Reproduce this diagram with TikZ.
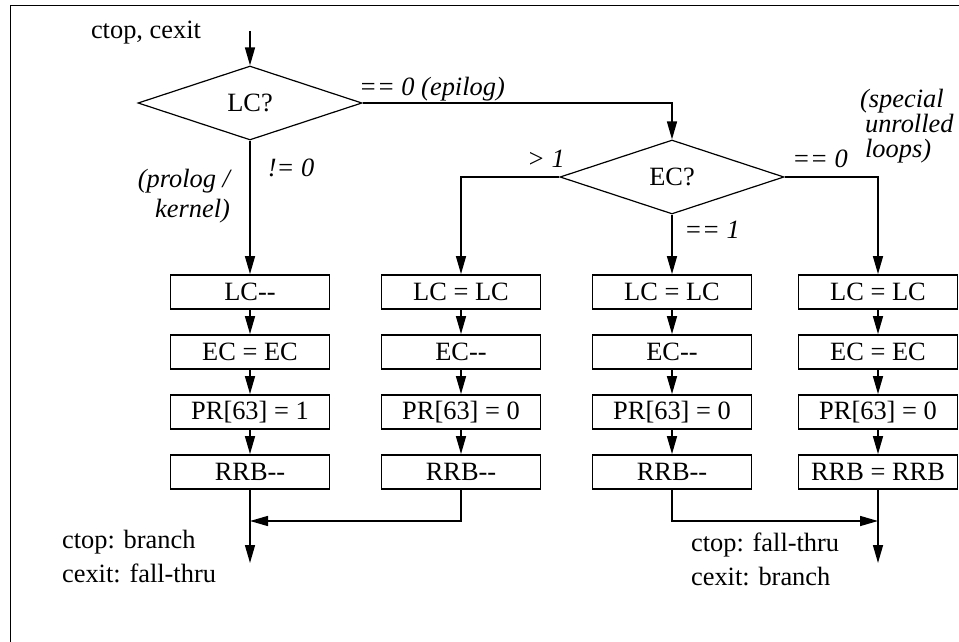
\documentclass[tikz,border=0pt]{standalone}
\usepackage{fontspec}
\setmainfont{Liberation Serif}
\usepackage{tikz}
\usetikzlibrary{shapes.geometric,arrows.meta}
\tikzstyle{testnode}=[draw,%
                      diamond,%
                      line width     = 0.6pt,%
                      aspect         = 3,%
                      inner sep      = 0pt,%
                      minimum width  = 112pt,%
                      minimum height = 37pt]
\tikzstyle{opnode}=[draw,rectangle,line width=0.9pt,minimum width=79.5pt,minimum height=17pt,inner sep=0pt,node distance=30pt]
\tikzstyle{cond}=[font=\fontsize{13.2}{15}\selectfont\itshape]
\tikzstyle{flow}=[-{Triangle[length=9pt,width=5pt]},line width=0.75pt]
\begin{document}
\begin{tikzpicture}[x=0.5pt,y=-0.5pt,font=\fontsize{13.2}{17}\selectfont]
            \useasboundingbox (0,0) rectangle (959,642);
            \draw[line width=0.5pt] (10,642) -- (10,5.5) -- (959,5.5);
            \node (entry) at (146,33) {ctop, cexit};
            \coordinate (in) at (250,31);
            \node[testnode] (lc) at (250,103) {LC?};
            \node[testnode] (ec) at (672,177) {EC?};
            % columns of operations
            \node[opnode] (lcA) at (250,292) {LC-{}-};
            \node[opnode][below of=lcA] (ecA) {EC = EC};
            \node[opnode][below of=ecA] (prA) {PR[63] = 1};
            \node[opnode][below of=prA] (rrbA) {RRB-{}-};
            \node[opnode] (lcB) at (461,292) {LC = LC};
            \node[opnode][below of=lcB] (ecB) {EC-{}-};
            \node[opnode][below of=ecB] (prB) {PR[63] = 0};
            \node[opnode][below of=prB] (rrbB) {RRB-{}-};
            \node[opnode] (lcC) at (672,292) {LC = LC};
            \node[opnode][below of=lcC] (ecC) {EC-{}-};
            \node[opnode][below of=ecC] (prC) {PR[63] = 0};
            \node[opnode][below of=prC] (rrbC) {RRB-{}-};
            \node[opnode] (lcD) at (878,292) {LC = LC};
            \node[opnode][below of=lcD] (ecD) {EC = EC};
            \node[opnode][below of=ecD] (prD) {PR[63] = 0};
            \node[opnode][below of=prD] (rrbD) {RRB = RRB};
            % branch labels
            \node[cond] (epi) at (432,89) {== 0 (epilog)};
            \node[cond] (ne) at (291,168) {!= 0};
            \node[cond,align=right,anchor=east] (pk) at (237,196) {(prolog /\\kernel)};
            \node[cond] (gt) at (546,159) {> 1};
            \node[cond] (eqz) at (820,159) {== 0};
            \node[cond] (eqo) at (712,230) {== 1};
            \node[cond,align=left,anchor=west,font=\fontsize{13.2}{12.5}\selectfont\itshape] (spec) at (853,126) {(special\\\hspace*{2.5pt}unrolled\\\hspace*{2.5pt}loops)};
            % exits
            \coordinate (mA) at (250,521);
            \coordinate (mD) at (878,521);
            \coordinate (outA) at (250,563);
            \coordinate (outD) at (878,563);
            \node[align=left,anchor=west] (exA) at (55,557) {ctop: branch\\cexit: fall-thru};
            \node[align=left,anchor=west] (exD) at (684,559) {ctop: fall-thru\\cexit: branch};
            \draw [flow] (in) -- (lc.north);
            \draw [flow] (lc.east) -| (ec.north);
            \draw [flow] (lc.south) -- (lcA.north);
            \draw [flow] (ec.west) -| (lcB.north);
            \draw [flow] (ec.south) -- (lcC.north);
            \draw [flow] (ec.east) -| (lcD.north);
            \foreach \c in {A,B,C,D}{
              \draw [flow] (lc\c.south) -- (ec\c.north);
              \draw [flow] (ec\c.south) -- (pr\c.north);
              \draw [flow] (pr\c.south) -- (rrb\c.north);
            }
            \draw [flow] (rrbA.south) -- (outA);
            \draw [flow] (rrbB.south) |- (mA);
            \draw [flow] (rrbC.south) |- (mD);
            \draw [flow] (rrbD.south) -- (outD);
\end{tikzpicture}
\end{document}
